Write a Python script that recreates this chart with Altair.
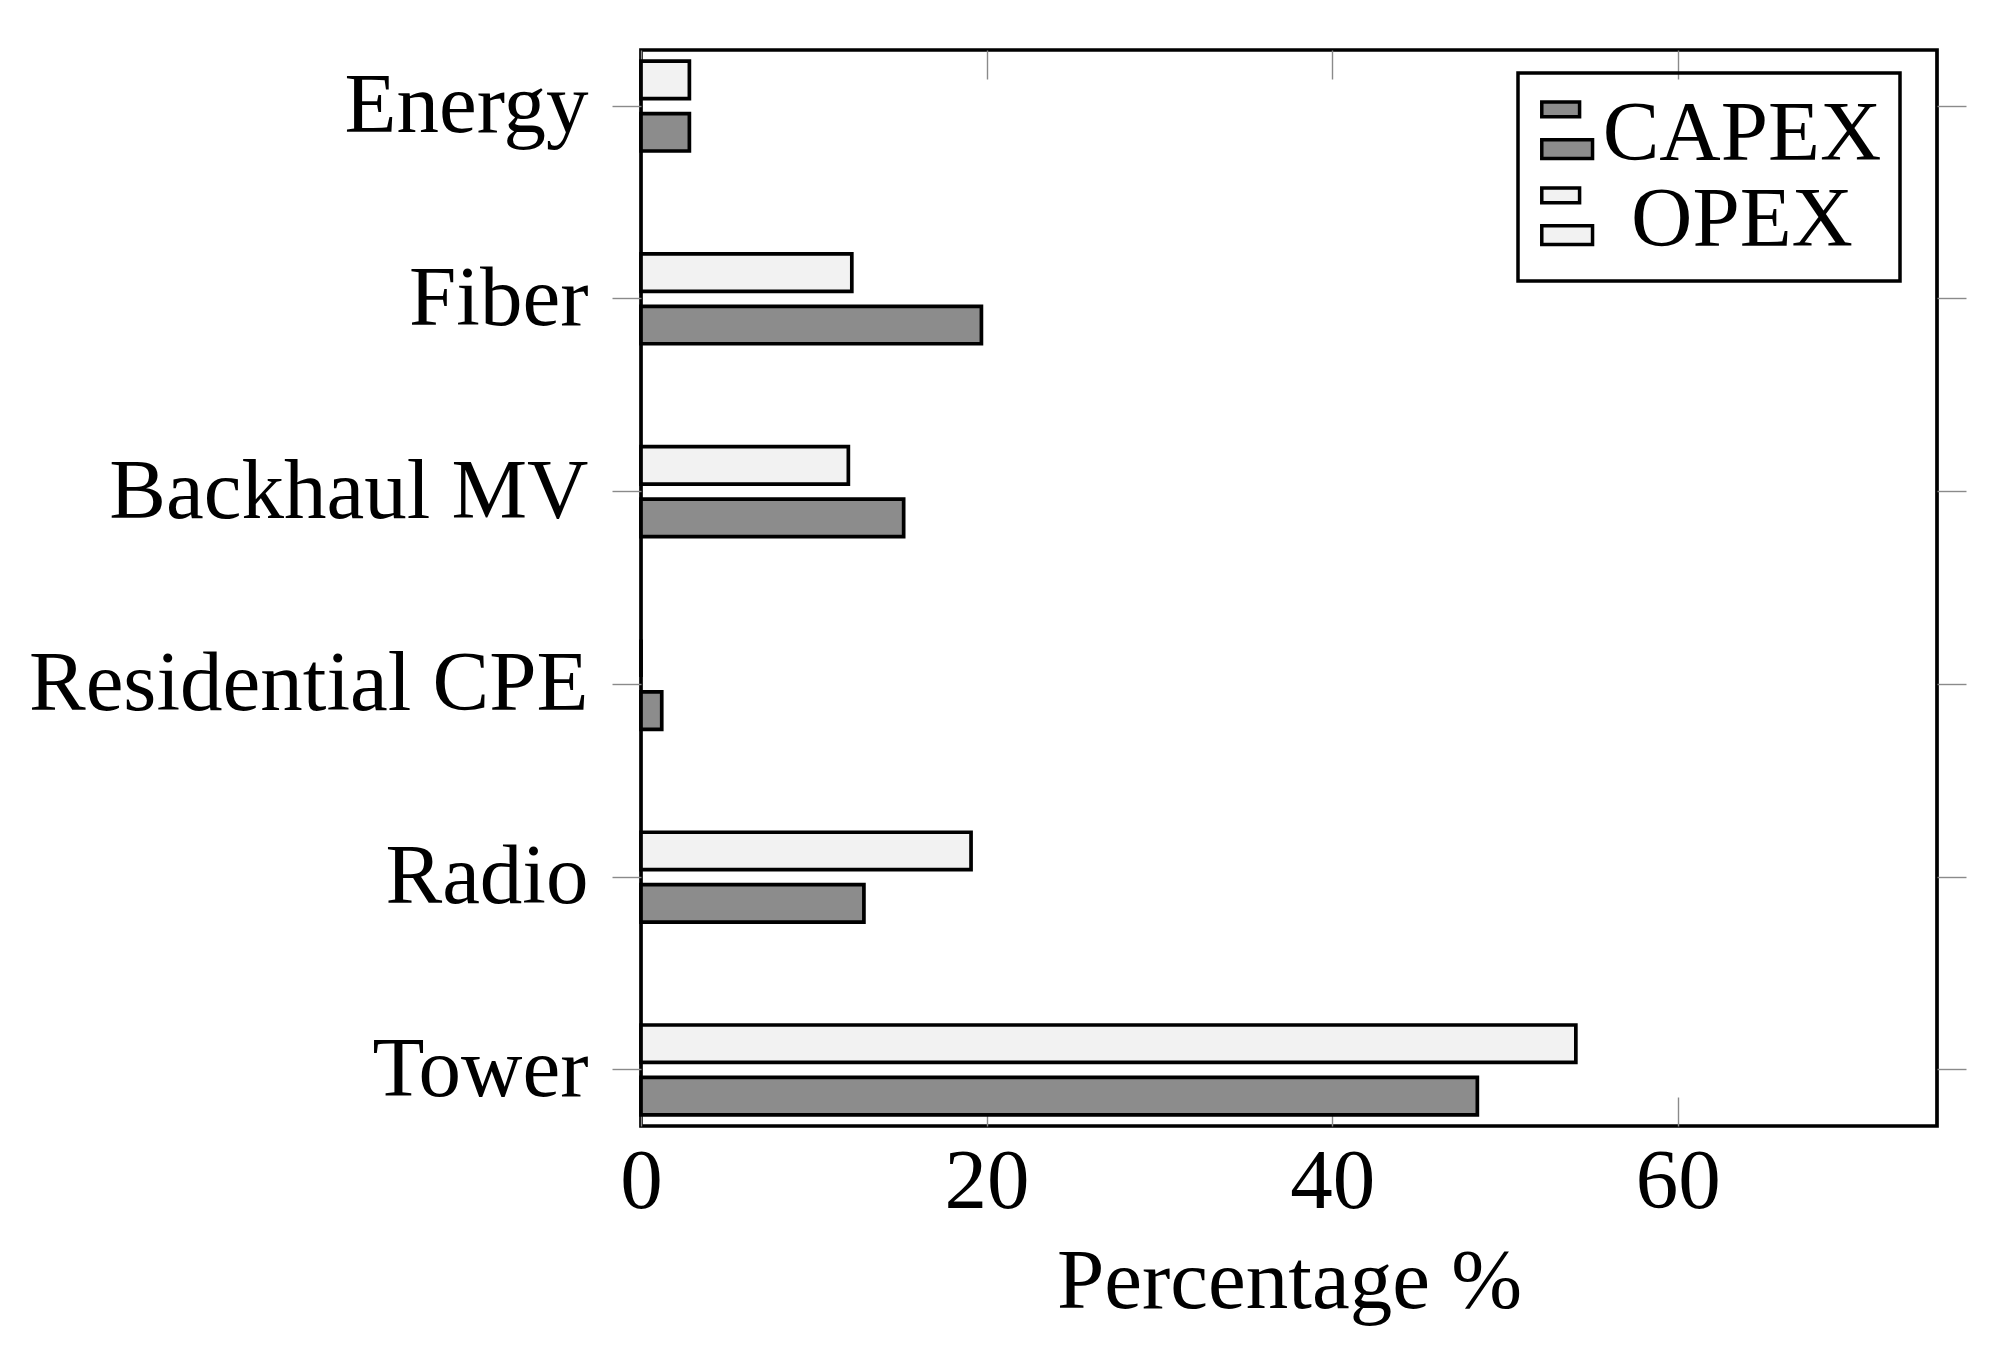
import altair as alt
import pandas as pd

categories = ["Energy", "Fiber", "Backhaul MV", "Residential CPE", "Radio", "Tower"]
capex = [2.8, 19.7, 15.2, 1.2, 12.9, 48.4]
opex = [2.8, 12.2, 12.0, 0.0, 19.1, 54.1]
series = ["CAPEX", "OPEX"]
series_colors = ["#8c8c8c", "#f2f2f2"]
x_ticks = [0, 20, 40, 60]

rows = []
for c, cv, ov in zip(categories, capex, opex):
    rows.append({"category": c, "series": "CAPEX", "value": cv})
    rows.append({"category": c, "series": "OPEX", "value": ov})
df = pd.DataFrame(rows)

W, H = 1296, 1076
FONT = "Liberation Serif"
FS = 85
TICK = "#8a8a8a"

xscale = alt.Scale(domain=[0, 75], nice=False, zero=True)
yscale = alt.Scale(domain=categories, paddingInner=0.534, paddingOuter=0.058)
yoff_scale = alt.Scale(domain=["OPEX", "CAPEX"], paddingInner=0.285, paddingOuter=0)
fill_scale = alt.Scale(domain=series, range=series_colors)

symbol_path = "M-1.36,-1.17H0.04V-0.62H-1.36Z M-1.36,0.23H0.52V0.93H-1.36Z"

base = alt.Chart(df)

bars = base.mark_bar(stroke="black", strokeWidth=3.7).encode(
    x=alt.X("value:Q", scale=xscale,
            axis=alt.Axis(orient="bottom", values=x_ticks, ticks=False, tickSize=0,
                          domain=False, grid=False, labelPadding=14, labelFlush=False,
                          labelFontSize=FS, title="Percentage %", titleFontSize=FS,
                          titlePadding=16)),
    y=alt.Y("category:N", scale=yscale,
            axis=alt.Axis(orient="left", domain=False, grid=False, ticks=True,
                          tickSize=29, tickColor=TICK, tickWidth=1.4,
                          labelPadding=24, labelFontSize=FS, labelLimit=2000,
                          title=None)),
    yOffset=alt.YOffset("series:N", scale=yoff_scale),
    fill=alt.Fill("series:N", scale=fill_scale,
                  legend=alt.Legend(title=None, orient="none", legendX=877, legendY=23,
                                    symbolType=symbol_path, symbolSize=2916,
                                    symbolStrokeColor="black", symbolStrokeWidth=3.5,
                                    labelFontSize=FS, labelFont=FONT, labelColor="black",
                                    labelAlign="center", labelOffset=121, labelLimit=2000,
                                    padding=18, rowPadding=0,
                                    strokeColor="black")),
)

ticks_top_right = base.mark_bar(opacity=0).encode(
    x=alt.X("value:Q", scale=xscale,
            axis=alt.Axis(orient="bottom", offset=-H, values=x_ticks, labels=False,
                          domain=False, grid=False, ticks=True, tickSize=29,
                          tickColor=TICK, tickWidth=1.4, title=None)),
    y=alt.Y("category:N", scale=yscale,
            axis=alt.Axis(orient="right", labels=False, domain=False, grid=False,
                          ticks=True, tickSize=29, tickColor=TICK, tickWidth=1.4,
                          title=None)),
    yOffset=alt.YOffset("series:N", scale=yoff_scale),
)

ticks_bottom = base.mark_bar(opacity=0).encode(
    x=alt.X("value:Q", scale=xscale,
            axis=alt.Axis(orient="top", offset=-H, values=x_ticks, labels=False,
                          domain=False, grid=False, ticks=True, tickSize=29,
                          tickColor=TICK, tickWidth=1.4, title=None)),
    y=alt.Y("category:N", scale=yscale, axis=None),
    yOffset=alt.YOffset("series:N", scale=yoff_scale),
)

chart = alt.layer(bars, ticks_top_right, ticks_bottom).resolve_axis(
    x="independent", y="independent"
).properties(
    width=W, height=H,
    autosize=alt.AutoSizeParams(type="none"),
    padding={"left": 633, "top": 42, "right": 60, "bottom": 220},
    background="white",
).configure_axis(
    labelFont=FONT, titleFont=FONT, labelColor="black", titleColor="black",
    titleFontWeight="normal",
).configure_legend(
    strokeWidth=3.5,
).configure_view(
    stroke="black", strokeWidth=3.7,
)

chart.save("out.html", embed_options={"renderer": "svg", "actions": False})
